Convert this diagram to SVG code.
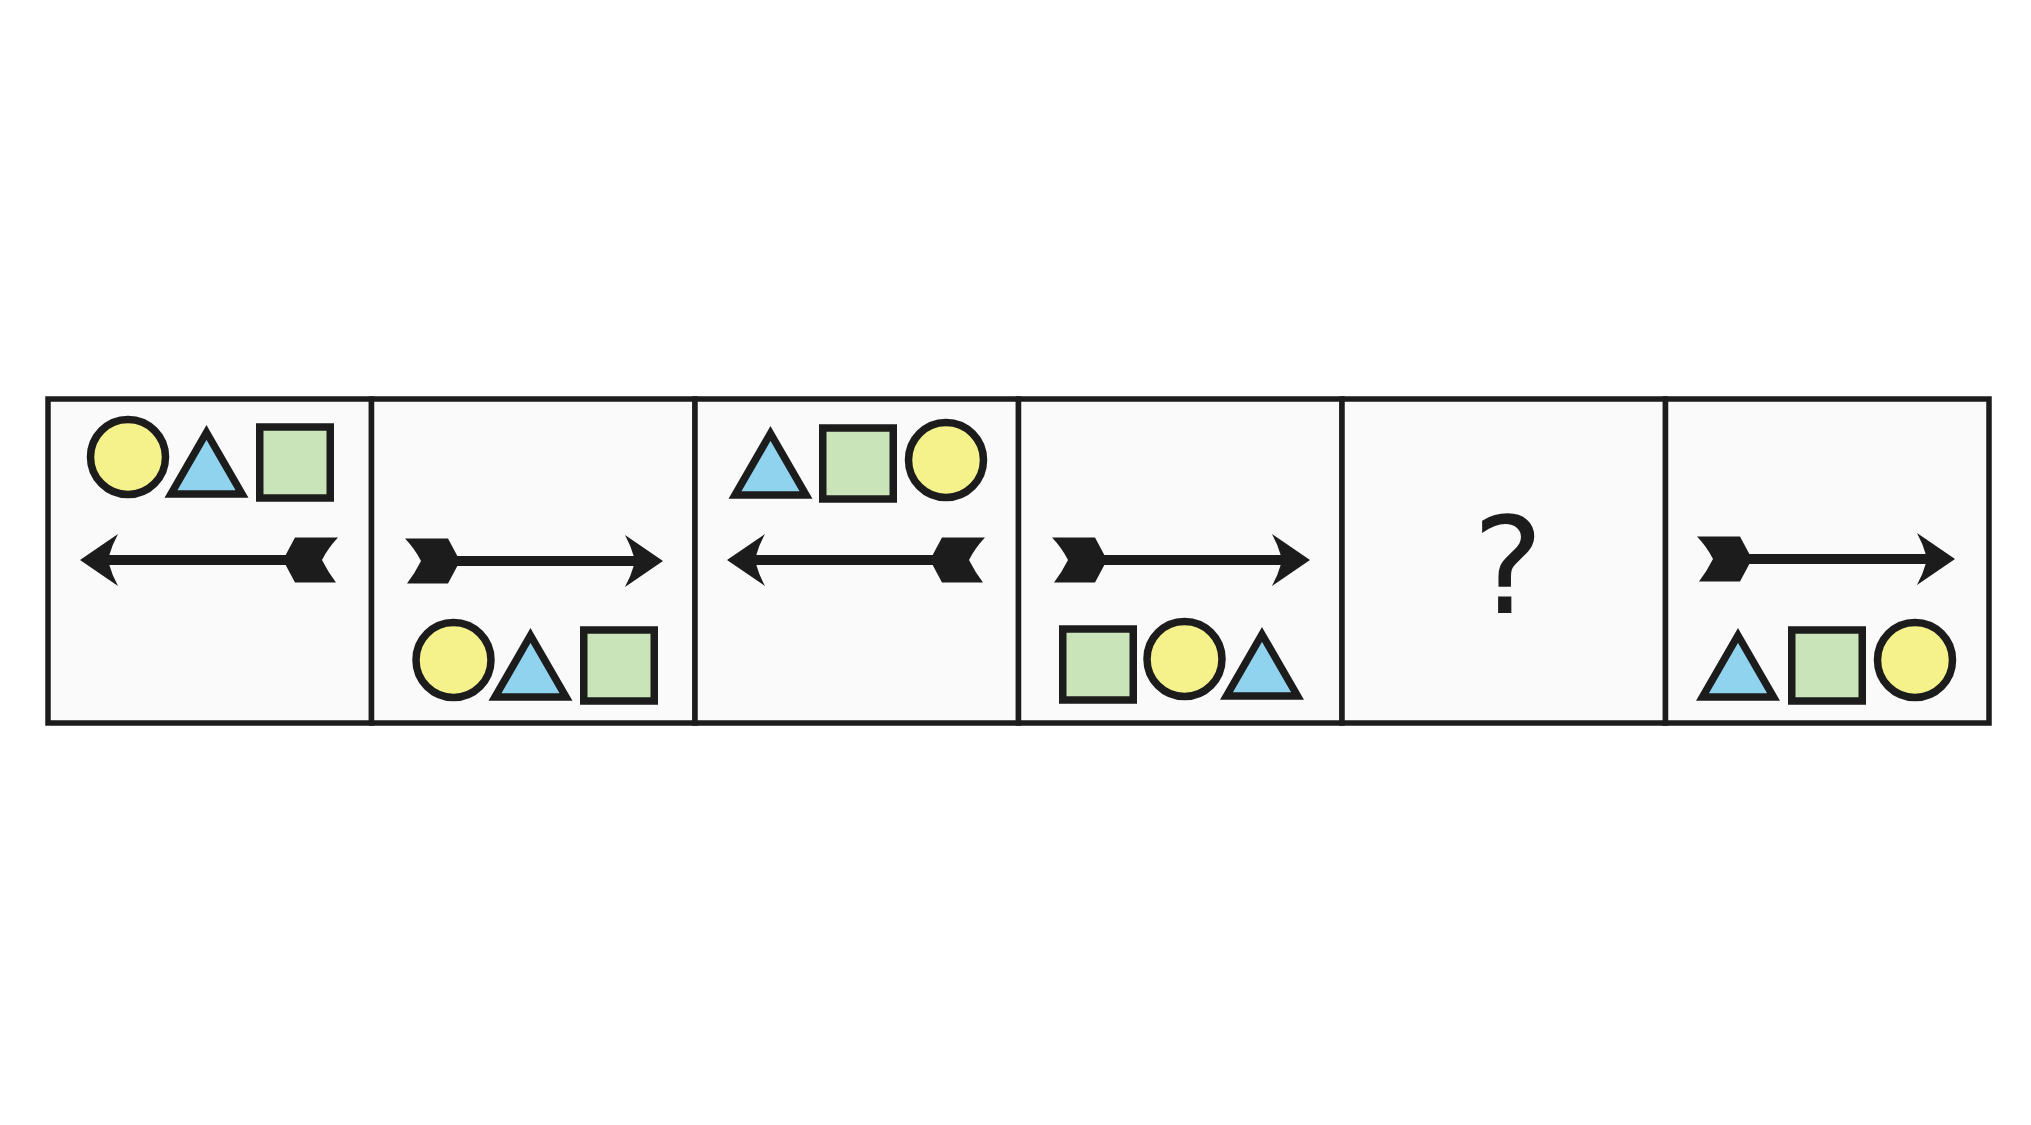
<svg xmlns="http://www.w3.org/2000/svg" xmlns:xlink="http://www.w3.org/1999/xlink" width="2031" height="1125" viewBox="0 0 2031 1125">
<style>
.cell{fill:#fafafa;stroke:#1c1c1c;stroke-width:5.5}
.ink{fill:#1c1c1c}
.q{font-family:"DejaVu Sans","Open Sans",sans-serif;font-size:134px;fill:#1c1c1c;text-anchor:middle}
</style>
<defs>
<circle id="c" cx="0" cy="0" r="37.5" fill="#f6f28b" stroke="#1c1c1c" stroke-width="7.5"/>
<polygon id="t" points="0,-24.5 35.5,37 -35.5,37" fill="#8fd3ee" stroke="#1c1c1c" stroke-width="7.5" stroke-linejoin="miter"/>
<rect id="s" x="-35.25" y="-30" width="70.5" height="71" fill="#c9e4b9" stroke="#1c1c1c" stroke-width="7.5"/>
<g id="arrow" class="ink">
<path d="M0,-22.5 L43,-22.5 L55,0 L43,22.5 L2,22.5 Q10,12 16,0 Q10,-12 0,-22.5 Z"/>
<rect x="48" y="-5" width="184" height="10"/>
<path d="M258,0 L220,-26 Q226,-15 229,-4 L229,4 Q226,15 220,26 Z"/>
</g>
</defs>
<rect width="2031" height="1125" fill="#ffffff"/>
<g id="cell1">
<rect class="cell" x="48" y="399" width="323.5" height="324"/>
<use xlink:href="#c" x="128" y="457"/>
<use xlink:href="#t" x="206.5" y="457"/>
<use xlink:href="#s" x="295" y="457"/>
</g>
<g id="cell2">
<rect class="cell" x="371.5" y="399" width="323.5" height="324"/>
<use xlink:href="#c" x="453.5" y="660"/>
<use xlink:href="#t" x="530.5" y="660"/>
<use xlink:href="#s" x="619" y="660"/>
</g>
<g id="cell3">
<rect class="cell" x="695" y="399" width="323.5" height="324"/>
<use xlink:href="#t" x="770.5" y="458"/>
<use xlink:href="#s" x="858" y="458"/>
<use xlink:href="#c" x="946" y="460"/>
</g>
<g id="cell4">
<rect class="cell" x="1018.5" y="399" width="323.5" height="324"/>
<use xlink:href="#s" x="1098" y="659"/>
<use xlink:href="#c" x="1184.5" y="659"/>
<use xlink:href="#t" x="1262" y="659"/>
</g>
<g id="cell5">
<rect class="cell" x="1342" y="399" width="323.5" height="324"/>
<text class="q" x="1508" y="613">?</text>
</g>
<g id="cell6">
<rect class="cell" x="1665.5" y="399" width="323.5" height="324"/>
<use xlink:href="#t" x="1738" y="660"/>
<use xlink:href="#s" x="1827" y="660"/>
<use xlink:href="#c" x="1915" y="660"/>
</g>
<g id="connectors">
<use xlink:href="#arrow" transform="translate(338,560) scale(-1,1)"/>
<use xlink:href="#arrow" transform="translate(405,561)"/>
<use xlink:href="#arrow" transform="translate(985,560) scale(-1,1)"/>
<use xlink:href="#arrow" transform="translate(1052,560)"/>
<use xlink:href="#arrow" transform="translate(1697,559)"/>
</g>
</svg>
